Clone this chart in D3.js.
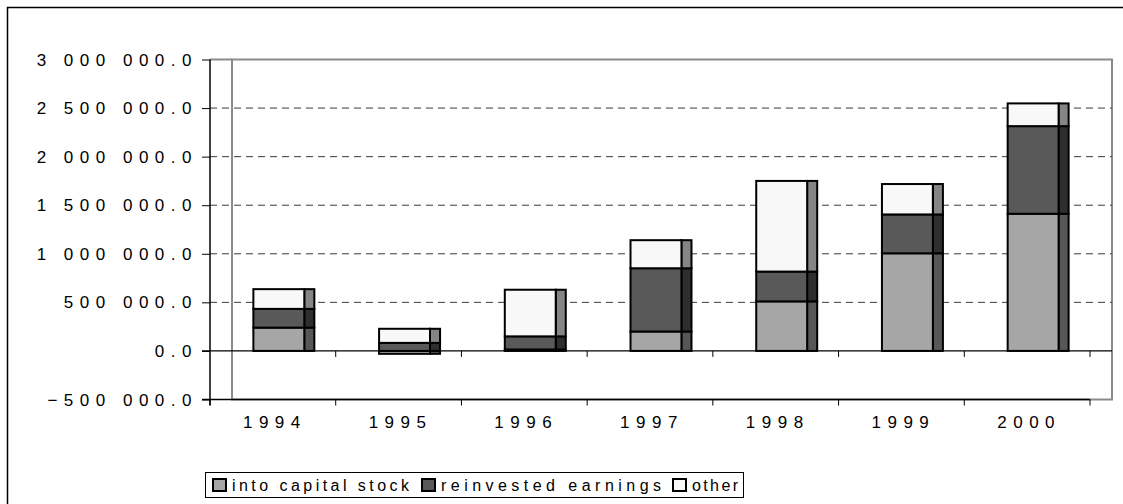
<!DOCTYPE html>
<html>
<head>
<meta charset="utf-8">
<script src="https://cdn.jsdelivr.net/npm/d3@7"></script>
<style>
  body { margin: 0; background: #fff; }
  svg { display: block; font-family: "Liberation Sans", Arial, sans-serif; }
</style>
</head>
<body>
<svg width="1123" height="504"></svg>
<script>
// values
let years = ["1994", "1995", "1996", "1997", "1998", "1999", "2000"];
let capitalStock = [240000, -30000, 15000, 200000, 510000, 1005000, 1412000];
let reinvested = [193000, 83000, 135000, 651000, 307000, 400000, 902000];
let other = [203000, 145000, 480000, 289000, 933000, 313000, 234000];
let seriesNames = ["into capital stock", "reinvested earnings", "other"];
let yTicks = [-500000, 0, 500000, 1000000, 1500000, 2000000, 2500000, 3000000];

let front = ["#a6a6a6", "#595959", "#f8f8f8"];
let side = ["#575757", "#2e2e2e", "#858585"];

let svg = d3.select("svg");

// outer chart frame (right and bottom edges fall outside the picture)
svg.append("rect")
  .attr("x", 7.5).attr("y", 7.5)
  .attr("width", 1300).attr("height", 700)
  .attr("fill", "none").attr("stroke", "#000").attr("stroke-width", 1.5);

let x = d3.scaleBand().domain(years).range([210, 1090]);
let y = d3.scaleLinear().domain([-500000, 3000000]).range([399.5, 59.5]);
let depth = 22;

let fmt = v => d3.format(",.1f")(v).replace(/,/g, " ");

// back wall
svg.append("rect")
  .attr("x", 210 + depth).attr("y", y(3000000))
  .attr("width", 1090 - 210).attr("height", y(-500000) - y(3000000))
  .attr("fill", "none").attr("stroke", "#8a8a8a").attr("stroke-width", 2);
svg.append("line")
  .attr("x1", 210).attr("x2", 210 + depth)
  .attr("y1", y(3000000)).attr("y2", y(3000000))
  .attr("stroke", "#8a8a8a").attr("stroke-width", 2);

// dashed gridlines
svg.append("g").selectAll("line")
  .data(yTicks.filter(t => t > 0 && t < 3000000))
  .enter().append("line")
  .attr("x1", 210).attr("x2", 1090 + depth)
  .attr("y1", d => y(d)).attr("y2", d => y(d))
  .attr("stroke", "#3a3a3a").attr("stroke-dasharray", "7,5");

// zero line with category ticks
svg.append("line")
  .attr("x1", 202).attr("x2", 1090 + depth)
  .attr("y1", y(0)).attr("y2", y(0))
  .attr("stroke", "#000").attr("stroke-width", 1.2);
svg.append("g").selectAll("line")
  .data(years.slice(1).concat(["end"]))
  .enter().append("line")
  .attr("x1", (d, i) => x(years[0]) + x.bandwidth() * (i + 1))
  .attr("x2", (d, i) => x(years[0]) + x.bandwidth() * (i + 1))
  .attr("y1", y(0)).attr("y2", y(0) + 6)
  .attr("stroke", "#000");

// value axis
let yAxis = d3.axisLeft(y).tickValues(yTicks).tickSize(8).tickFormat("");
svg.append("g")
  .attr("transform", "translate(210,0)")
  .call(yAxis)
  .call(g => g.select(".domain").remove())
  .call(g => g.selectAll("line").attr("stroke", "#000"));
svg.append("line")
  .attr("x1", 210).attr("x2", 210)
  .attr("y1", y(3000000)).attr("y2", y(-500000) + 6)
  .attr("stroke", "#000").attr("stroke-width", 1.5);

svg.append("g").selectAll("text")
  .data(yTicks)
  .enter().append("text")
  .attr("x", 198).attr("y", d => y(d))
  .attr("dy", "0.36em")
  .attr("text-anchor", "end")
  .style("font-size", "17px")
  .style("letter-spacing", "6.5px")
  .text(fmt);

// category axis at the bottom
svg.append("line")
  .attr("x1", 202).attr("x2", 1090)
  .attr("y1", y(-500000)).attr("y2", y(-500000))
  .attr("stroke", "#000").attr("stroke-width", 1.5);
svg.append("g").selectAll("line")
  .data(years.concat(["end"]))
  .enter().append("line")
  .attr("x1", (d, i) => x(years[0]) + x.bandwidth() * i)
  .attr("x2", (d, i) => x(years[0]) + x.bandwidth() * i)
  .attr("y1", y(-500000)).attr("y2", y(-500000) + 6)
  .attr("stroke", "#000");
svg.append("g").selectAll("text")
  .data(years)
  .enter().append("text")
  .attr("x", d => x(d) + x.bandwidth() / 2 + 2)
  .attr("y", 428)
  .attr("text-anchor", "middle")
  .style("font-size", "17px")
  .style("letter-spacing", "6.5px")
  .text(d => d);

// stacked bars
let table = years.map((yr, i) => ({
  year: yr,
  "into capital stock": capitalStock[i],
  "reinvested earnings": reinvested[i],
  "other": other[i]
}));
let stack = d3.stack().keys(seriesNames).offset(d3.stackOffsetDiverging);
let layers = stack(table);

let barX = d => x(d.data.year) + x.bandwidth() * 0.345;
let barW = x.bandwidth() * 0.405;
let sideW = x.bandwidth() * 0.08;

let layer = svg.append("g").selectAll("g")
  .data(layers)
  .enter().append("g");

layer.selectAll(".side")
  .data((d, i) => d.map(p => Object.assign(p, { k: i })))
  .enter().append("rect")
  .attr("class", "side")
  .attr("x", d => barX(d) + barW)
  .attr("y", d => y(Math.max(d[0], d[1])))
  .attr("width", sideW)
  .attr("height", d => Math.abs(y(d[0]) - y(d[1])))
  .attr("fill", d => side[d.k])
  .attr("stroke", "#000").attr("stroke-width", 2);

layer.selectAll(".front")
  .data(d => d)
  .enter().append("rect")
  .attr("class", "front")
  .attr("x", barX)
  .attr("y", d => y(Math.max(d[0], d[1])))
  .attr("width", barW)
  .attr("height", d => Math.abs(y(d[0]) - y(d[1])))
  .attr("fill", d => front[d.k])
  .attr("stroke", "#000").attr("stroke-width", 2);

// legend
let legend = svg.append("g").attr("transform", "translate(205,472)");
legend.append("rect")
  .attr("x", 0.5).attr("y", 0.5)
  .attr("width", 538).attr("height", 25)
  .attr("fill", "#fff").attr("stroke", "#000");
let legendX = [8, 217, 468];
let legendLen = [177, 220, 46];
let item = legend.selectAll(".item")
  .data(seriesNames)
  .enter().append("g")
  .attr("class", "item")
  .attr("transform", (d, i) => "translate(" + legendX[i] + ",0)");
item.append("rect")
  .attr("x", 0).attr("y", 7)
  .attr("width", 13).attr("height", 12)
  .attr("fill", (d, i) => front[i])
  .attr("stroke", "#000").attr("stroke-width", 2);
item.append("text")
  .attr("x", 19).attr("y", 19)
  .attr("textLength", (d, i) => legendLen[i])
  .attr("lengthAdjust", "spacing")
  .style("font-size", "16px")
  .text(d => d);
</script>
</body>
</html>
